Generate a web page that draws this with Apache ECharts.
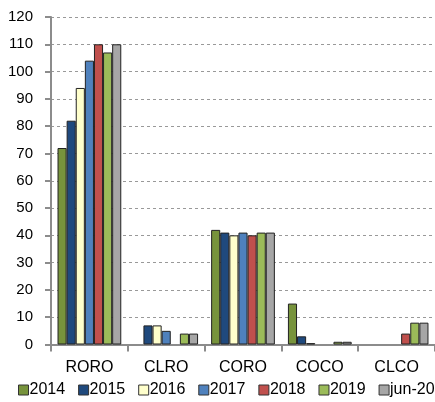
<!DOCTYPE html>
<html>
<head>
<meta charset="utf-8">
<script src="https://cdn.jsdelivr.net/npm/echarts@6/dist/echarts.min.js"></script>
<style>
  html, body { margin: 0; padding: 0; background: #fff; }
  #chart { width: 435px; height: 402px; }
</style>
</head>
<body>
<div id="chart"></div>
<script>
const categories = ['RORO', 'CLRO', 'CORO', 'COCO', 'CLCO']
const seriesNames = ['2014', '2015', '2016', '2017', '2018', '2019', 'jun-20']
// null = no bar drawn in the original
const v2014 = [72, null, 42, 15, null]
const v2015 = [82, 7, 41, 3, null]
const v2016 = [94, 7, 40, 0.5, null]
const v2017 = [104, 5, 41, null, null]
const v2018 = [110, null, 40, null, 4]
const v2019 = [107, 4, 41, 1, 8]
const vJun20 = [110, 4, 41, 1, 8]
const yTicks = [0, 10, 20, 30, 40, 50, 60, 70, 80, 90, 100, 110, 120]

const values = [v2014, v2015, v2016, v2017, v2018, v2019, vJun20]
const colors = ['#77933c', '#1f497d', '#ffffcc', '#4f81bd', '#c0504d', '#9bbb59', '#a6a6a6']

const font = 'Liberation Sans, Arial, sans-serif'
const chart = echarts.init(document.getElementById('chart'), null, { renderer: 'canvas' })

chart.setOption({
    backgroundColor: '#fff',
    animation: false,
    grid: { left: 51, right: -5, top: 17, bottom: 57.5 },
    legend: {
        top: 382,
        left: 18,
        width: 440,
        padding: 0,
        itemWidth: 10,
        itemHeight: 10,
        itemGap: 13,
        icon: 'rect',
        textStyle: { fontFamily: font, fontSize: 16, color: '#000', padding: [0, 0, 0, -4] },
        data: seriesNames.map((n, i) => ({
            name: n,
            itemStyle: { color: colors[i], borderColor: '#333', borderWidth: 1 },
        })),
    },
    xAxis: {
        type: 'category',
        data: categories,
        axisLine: { lineStyle: { color: '#8c8c8c', width: 2 } },
        axisTick: { show: true, length: 7, lineStyle: { color: '#8c8c8c', width: 2 } },
        axisLabel: { fontFamily: font, fontSize: 16, color: '#000', margin: 15 },
    },
    yAxis: {
        type: 'value',
        min: yTicks[0],
        max: yTicks[yTicks.length - 1],
        interval: 10,
        axisLine: { show: true, lineStyle: { color: '#8c8c8c', width: 2 } },
        axisTick: { show: true, length: 6, lineStyle: { color: '#8c8c8c', width: 2 } },
        axisLabel: { fontFamily: font, fontSize: 15, color: '#000', margin: 18 },
        splitLine: { lineStyle: { color: '#999', type: [3, 3], width: 1 } },
    },
    series: seriesNames.map((name, i) => ({
        name,
        type: 'bar',
        data: values[i],
        barGap: '0%',
        barCategoryGap: '17%',
        itemStyle: { color: colors[i], borderColor: '#222', borderWidth: 1 },
    })),
})
</script>
</body>
</html>
